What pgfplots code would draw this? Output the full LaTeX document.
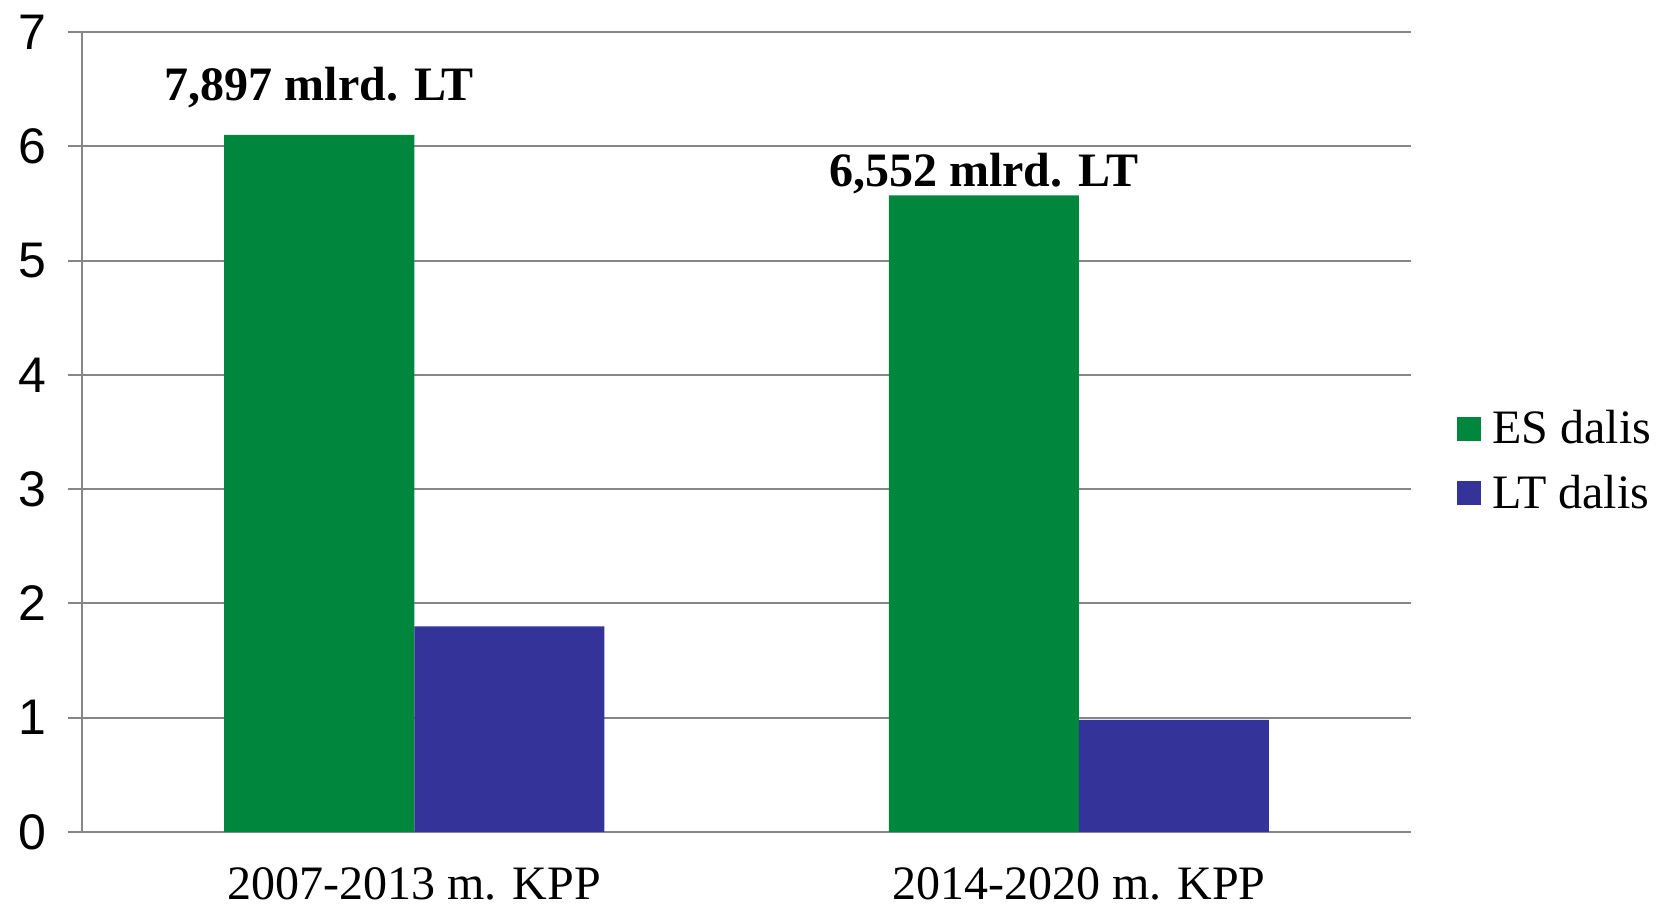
\documentclass[border=0pt]{standalone}
\usepackage{fontspec}
\setmainfont{Liberation Serif}
\newfontfamily\arialfont{Liberation Sans}
\usepackage{pgfplots}
\pgfplotsset{compat=1.18}
\definecolor{esgreen}{RGB}{0,135,62}
\definecolor{ltblue}{RGB}{51,51,153}
\definecolor{gridgray}{RGB}{134,134,134}
\begin{document}
\begin{tikzpicture}
\path[use as bounding box] (-41pt,-38pt) rectangle (787pt,416pt);
\begin{axis}[
  at={(0,0)}, anchor=south west,
  scale only axis, width=664.5pt, height=400pt,
  ybar=0pt, bar width=95pt,
  xmin=-0.5, xmax=1.5, ymin=0, ymax=7,
  axis lines=left,
  axis line style={-, draw=gridgray, line width=1pt},
  ytick={0,1,2,3,4,5,6,7},
  ymajorgrids, grid style={gridgray, line width=1pt},
  tick align=outside, major tick length=7pt,
  y tick style={draw=gridgray, line width=1pt},
  xtick={0,1},
  xticklabels={2007-2013 m. KPP, 2014-2020 m. KPP},
  x tick style={draw=none},
  extra x ticks={-0.5,0.5,1.5}, extra x tick labels={},
  extra x tick style={grid=none, major tick length=6.5pt, tick style={draw=gridgray, line width=1pt}},
  /pgf/number format/assume math mode=true,
  yticklabel style={font=\arialfont\fontsize{25}{30}\selectfont, xshift=-7.5pt},
  xticklabel style={font=\fontsize{24}{28}\selectfont, yshift=-7.5pt},
  legend style={draw=none, fill=none, at={(1.0346,0.464)}, anchor=west,
    inner sep=0pt, font=\fontsize{24}{28}\selectfont, row sep=12pt,
    cells={anchor=west}, nodes={inner sep=1pt},
    /tikz/every odd column/.style={column sep=4.5pt}},
  legend image code/.code={\fill[#1] (0pt,-6pt) rectangle (12pt,6pt);},
  clip=false,
]
\addplot[fill=esgreen, draw=none] coordinates {(0,6.10) (1,5.57)};
\addplot[fill=ltblue, draw=none] coordinates {(0,1.80) (1,0.98)};
\legend{ES dalis, LT dalis}
\node[anchor=base, xshift=-47.5pt, font=\bfseries\fontsize{24}{28}\selectfont] at (axis cs:0,6.40) {7,897 mlrd. LT};
\node[anchor=base, xshift=-47.5pt, font=\bfseries\fontsize{24}{28}\selectfont] at (axis cs:1,5.65) {6,552 mlrd. LT};
\end{axis}
\end{tikzpicture}
\end{document}
